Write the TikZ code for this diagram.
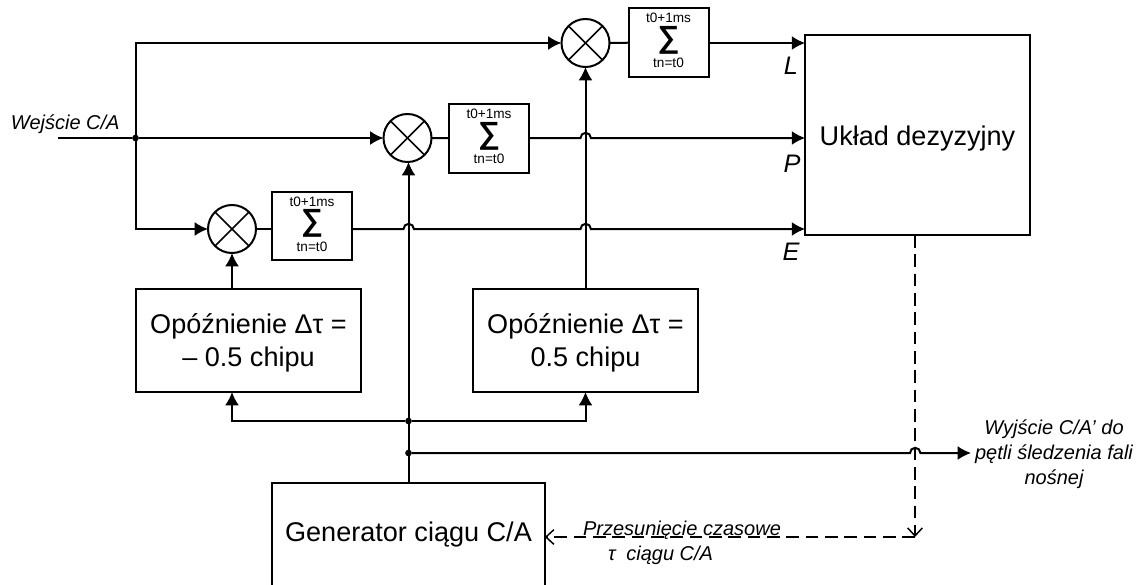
\documentclass[tikz,border=0pt]{standalone}
\usepackage{fontspec}
\setmainfont{Liberation Sans}
\usetikzlibrary{positioning}
\usetikzlibrary{calc}
\usetikzlibrary{arrows.meta}
\def\hop{arc[start angle=180,end angle=0,radius=3.9pt]}
\begin{document}
\begin{tikzpicture}[x=0.75pt,y=-0.75pt,line width=1.5pt,
	mixer/.style={circle, draw, minimum size=36pt, inner sep=0pt, outer sep=0pt},
	sumbox/.style={rectangle, draw, minimum width=60pt, minimum height=51.5pt, inner sep=0pt, outer sep=0pt},
	bigbox/.style={rectangle, draw, inner sep=0pt, outer sep=0pt},
	bigtext/.style={inner sep=0pt, align=center, font=\fontsize{20.3}{24.75}\selectfont},
	sigmatext/.style={inner sep=0pt, font=\fontsize{23}{23}\selectfont\bfseries},
	tinytext/.style={inner sep=0pt, font=\fontsize{10.2}{12}\selectfont},
	sidetext/.style={inner sep=0pt, align=center, font=\fontsize{15}{18.7}\selectfont\itshape},
	portname/.style={inner sep=0pt, font=\fontsize{19}{19}\selectfont\itshape},
	dot/.style={circle, fill, minimum size=5pt, inner sep=0pt, outer sep=0pt},
	flow/.style={-{Latex[length=10pt,width=10.5pt]}},
	tune/.style={dashed, dash pattern=on 9.5pt off 5pt, line width=1.1pt, -{Straight Barb[length=6pt,width=11pt]}}]
	\useasboundingbox (0,0) rectangle (1142,585);
	% blocks
	\node[mixer] (mixerL) at (585.5,43) {};
	\node[mixer] (mixerP) at (407.5,138) {};
	\node[mixer] (mixerE) at (232,229) {};
	\node[sumbox] (sumL) at (668.5,42.5) {};
	\node[sumbox] (sumP) at (489,138.5) {};
	\node[sumbox] (sumE) at (312,226) {};
	\node[bigbox, minimum width=168.5pt, minimum height=150pt] (decision) at (917.5,135) {};
	\node[bigbox, minimum width=168.75pt, minimum height=77.25pt] (delayE) at (248.5,340.5) {};
	\node[bigbox, minimum width=168.75pt, minimum height=77.25pt] (delayL) at (585.5,340.5) {};
	\node[bigbox, minimum width=204.5pt, minimum height=78pt] (generator) at (408.5,535) {};
	\node[bigtext] (decisionText) at (917.5,139) {Układ dezyzyjny};
	\node[bigtext] (delayEText) at (248.5,342.5) {Opóźnienie Δτ =\\– 0.5 chipu};
	\node[bigtext] (delayLText) at (585.5,342.5) {Opóźnienie Δτ =\\0.5 chipu};
	\node[bigtext] (generatorText) at (408.5,535) {Generator ciągu C/A};
	\foreach \s in {sumL,sumP,sumE} {
		\node[sigmatext] (\s sign) at ($(\s.center)+(0,-2.5)$) {∑};
		\node[tinytext] (\s top) at ($(\s.center)+(0,-24.5)$) {t0+1ms};
		\node[tinytext] (\s bottom) at ($(\s.center)+(0,20.5)$) {tn=t0};
	}
	\foreach \m in {mixerL,mixerP,mixerE} {
		\draw[line width=1.2pt] (\m.45) -- (\m.225);
		\draw[line width=1.2pt] (\m.135) -- (\m.-45);
	}
	% points
	\coordinate (input) at (58,138);
	\node[dot] (split) at (135.5,138) {};
	\node[dot] (share) at (408.5,421) {};
	\node[dot] (tap) at (408.5,453) {};
	\coordinate (output) at (971,453);
	\coordinate (corner) at (915,537);
	% text
	\node[sidetext, anchor=west] (inlabel) at (10,124.5) {Wejście C/A};
	\node[sidetext] (outlabel) at (1054,454.5) {Wyjście C/A’ do\\pętli śledzenia fali\\nośnej};
	\node[sidetext] (shiftlabel) at (682,542.5) {Przesunięcie czasowe\\τ\hspace*{8pt}ciągu C/A\hspace*{32pt}};
	\node[portname] (portL) at (791,66) {L};
	\node[portname] (portP) at (792,164) {P};
	\node[portname] (portE) at (791,252) {E};
	% inputs
	\draw (input) -- (split);
	\draw[flow] (split) -- (mixerP);
	\draw[flow] (split) |- (mixerL);
	\draw[flow] (split) |- (mixerE);
	\draw (mixerL) -- (sumL);
	\draw (mixerP) -- (sumP);
	\draw (mixerE) -- (sumE.west |- mixerE);
	% outputs with hops
	\draw[flow] (sumL.east |- 0,43) -- (decision.west |- 0,43);
	\draw[flow] (sumP.east |- 0,138) -- (580.5,138) \hop -- (decision.west |- 0,138);
	\draw[flow] (sumE.east |- 0,229) -- (403.5,229) \hop -- (580.5,229) \hop -- (decision.west |- 0,229);
	% from below
	\draw[flow] (delayE.north -| mixerE) -- (mixerE);
	\draw[flow] (delayL.north) -- (mixerL);
	\draw[flow] (generator.north) -- (mixerP.south -| generator.north);
	\draw[flow] (share) -| (delayE.south -| mixerE);
	\draw[flow] (share) -| (delayL.south);
	\draw[flow] (tap) -- (910,453) \hop -- (output);
	% tuning
	\draw[tune] (decision.south -| corner) -- (corner);
	\draw[tune] (corner) -- (generator.east |- corner);
\end{tikzpicture}
\end{document}
